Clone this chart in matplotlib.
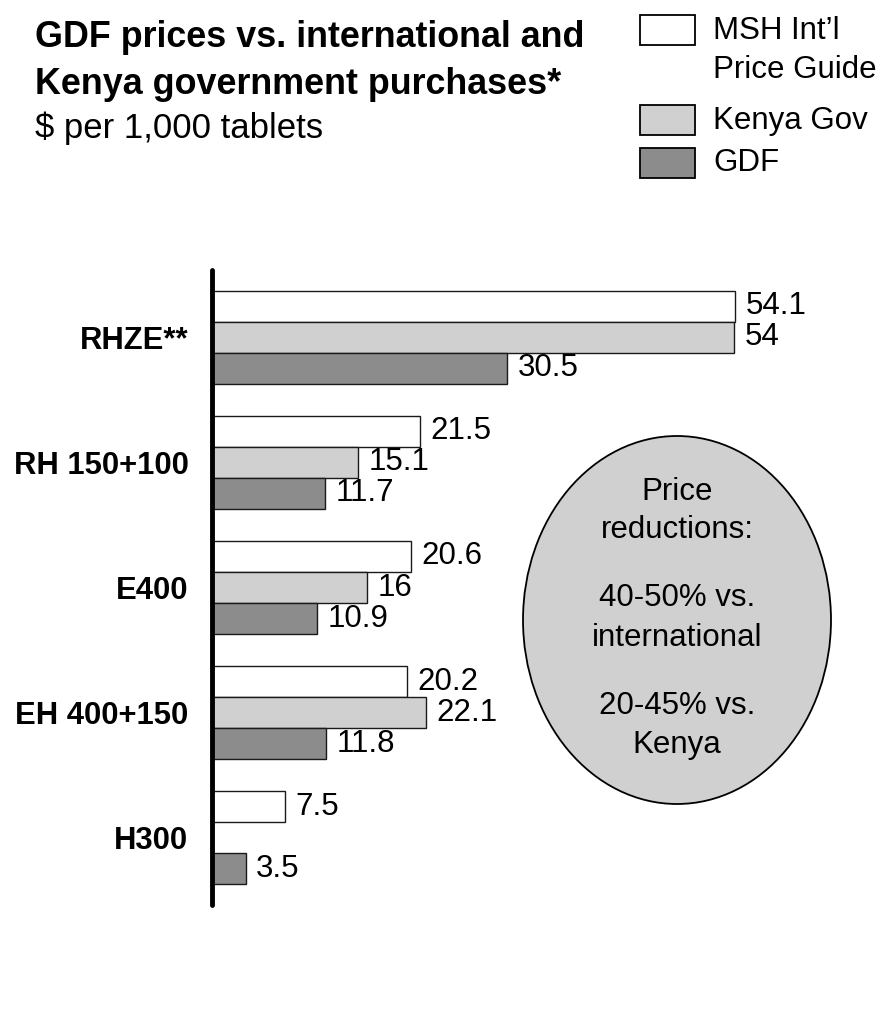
import numpy as np
import matplotlib.pyplot as plt
from matplotlib.patches import Ellipse, Rectangle

plt.rcParams['font.family'] = ['Liberation Sans', 'DejaVu Sans']

# Data
categories = ["RHZE**", "RH 150+100", "E400", "EH 400+150", "H300"]
series_names = ["MSH Int\u2019l\nPrice Guide", "Kenya Gov", "GDF"]
msh = [54.1, 21.5, 20.6, 20.2, 7.5]
kenya = [54, 15.1, 16, 22.1, None]
gdf = [30.5, 11.7, 10.9, 11.8, 3.5]
colors = ["#ffffff", "#d0d0d0", "#8c8c8c"]

W, H = 883, 1026
fig = plt.figure(figsize=(W / 100, H / 100), dpi=100)
ax = fig.add_axes([212 / W, 1 - 905 / H, 671 / W, 635 / H])

y = np.arange(len(categories))
h = 0.248
for k, (vals, col) in enumerate(zip([msh, kenya, gdf], colors)):
    off = (k - 1) * h
    for i, v in enumerate(vals):
        if v is None:
            continue
        ax.barh(y[i] + off, v, height=h, color=col, edgecolor="#1a1a1a", linewidth=1.0)
        ax.annotate(f"{v:g}", (v, y[i] + off), xytext=(7.5, 0), textcoords="offset points",
                    va="center", ha="left", fontsize=22.5)

ax.set_xlim(0, 671 / 9.67)
ax.set_ylim(4.536, -0.536)
ax.set_yticks(y)
ax.set_yticklabels(categories, fontsize=22.3, fontweight="bold")
ax.tick_params(axis="y", length=0, pad=17)
ax.set_xticks([])
for s in ["top", "right", "bottom"]:
    ax.spines[s].set_visible(False)
ax.spines["left"].set_linewidth(3.5)
ax.spines["left"].set_capstyle("round")

# Ellipse callout
ell = Ellipse((677 / W, 1 - 620 / H), 308 / W, 368 / H, transform=fig.transFigure,
              facecolor="#d0d0d0", edgecolor="black", linewidth=1.3)
fig.add_artist(ell)
ell_lines = [("Price", 492), ("reductions:", 530), ("40-50% vs.", 598), ("international", 638),
             ("20-45% vs.", 706), ("Kenya", 745)]
for txt, py in ell_lines:
    fig.text(677 / W, 1 - py / H, txt, ha="center", va="center", fontsize=22.5)

# Title
fig.text(35 / W, 1 - 38 / H, "GDF prices vs. international and", fontsize=25.8,
         fontweight="bold", va="center", ha="left")
fig.text(35 / W, 1 - 85 / H, "Kenya government purchases*", fontsize=25.8,
         fontweight="bold", va="center", ha="left")
fig.text(35 / W, 1 - 128 / H, "$ per 1,000 tablets", fontsize=25, va="center", ha="left")

# Legend
legend_boxes = [(15, 45), (105, 135), (148, 178)]
legend_text_y = [[31, 70], [121], [163]]
for (top, bot), name, col, tys in zip(legend_boxes, series_names, colors, legend_text_y):
    fig.add_artist(Rectangle((640 / W, 1 - bot / H), 55 / W, (bot - top) / H,
                             transform=fig.transFigure, facecolor=col, edgecolor="black",
                             linewidth=1.3))
    for line, ty in zip(name.split("\n"), tys):
        fig.text(713 / W, 1 - ty / H, line, fontsize=22.5, va="center", ha="left")

fig.savefig("out.png", dpi=100)
